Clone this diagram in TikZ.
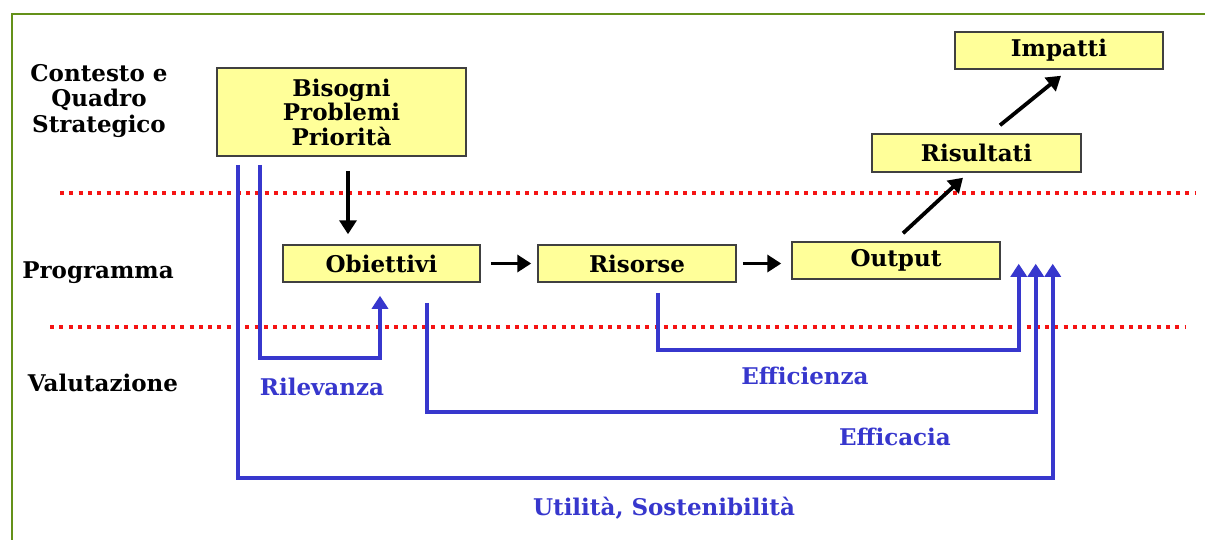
\documentclass[tikz,border=0pt]{standalone}
\usepackage{fontspec}
\setmainfont{DejaVu Serif}
\usetikzlibrary{arrows.meta,calc}
\definecolor{boxfill}{RGB}{255,255,153}
\definecolor{evalblue}{RGB}{55,55,205}
\definecolor{frameGreen}{RGB}{100,145,25}
\definecolor{dotred}{RGB}{245,20,20}
\tikzset{
  stagebox/.style={draw=black!75, fill=boxfill, line width=1.5pt, inner sep=0pt,
    align=center, font=\bfseries\fontsize{23}{24.5}\selectfont},
  sidelabel/.style={align=center, inner sep=0pt, font=\bfseries\fontsize{23}{25.5}\selectfont},
  evallabel/.style={inner sep=0pt, text=evalblue, font=\bfseries\fontsize{23}{25}\selectfont},
  karrow/.style={draw=black, line width=3.8pt, -{Triangle[length=14pt,width=17pt]}},
  barrow/.style={draw=evalblue, line width=4pt, -{Triangle[length=13pt,width=16pt]}},
  reddots/.style={draw=dotred, line width=4pt, dash pattern=on 4pt off 5.3pt},
  frameline/.style={draw=frameGreen, line width=2pt}
}
\begin{document}
\begin{tikzpicture}[x=1pt,y=-1pt]
\useasboundingbox (0,0) rectangle (1205,539);
\clip (0,0) rectangle (1205,539);
\draw[frameline] (12,14) rectangle (1240,580);

% dotted separators
\draw[reddots] (60,193) -- (1195,193);
\draw[reddots] (50,327) -- (1185,327);

% side labels
\node[sidelabel] (ctx) at (99,101) {Contesto e\\Quadro\\Strategico};
\node[sidelabel] (prog) at (98,273) {Programma};
\node[sidelabel] (val) at (103,383) {Valutazione};

% boxes
\node[stagebox, minimum width=249pt, minimum height=88pt] (bis) at (341.5,112) {Bisogni\\Problemi\\Priorità};
\node[stagebox, minimum width=197pt, minimum height=37pt] (obi) at (381.5,263.5) {Obiettivi};
\node[stagebox, minimum width=198pt, minimum height=37pt] (ris) at (637,263.5) {Risorse};
\node[stagebox, minimum width=208pt, minimum height=37pt] (out) at (896,260.5) {Output};
\node[stagebox, minimum width=209pt, minimum height=38pt] (rsl) at (976.5,153) {Risultati};
\node[stagebox, minimum width=208pt, minimum height=37pt] (imp) at (1059,50.5) {Impatti};

% black flow arrows
\coordinate (c1) at ([xshift=6.5pt]bis.south);
\draw[karrow, shorten <=14pt, shorten >=10pt] (c1) -- (c1 |- obi.north);
\draw[karrow, shorten <=10pt, shorten >=6pt] (obi.east) -- (ris.west);
\draw[karrow, shorten <=6pt, shorten >=10pt] (ris.east) -- (ris.east -| out.west);
\draw[karrow] ([xshift=7pt,yshift=8pt]out.north) -- ([xshift=-13.5pt,yshift=-5pt]rsl.south);
\draw[karrow] ([xshift=23.5pt,yshift=8pt]rsl.north) -- ([xshift=2pt,yshift=-6pt]imp.south);

% evaluation arrows
\coordinate (t1) at ([xshift=18pt,yshift=16pt]out.south east);
\coordinate (t2) at ([xshift=35pt,yshift=16pt]out.south east);
\coordinate (t3) at ([xshift=52pt,yshift=16pt]out.south east);
\draw[barrow] ([xshift=-81.5pt,yshift=-8pt]bis.south) |- ([xshift=-1.5pt,yshift=-75pt]obi.south) -- ([xshift=-1.5pt,yshift=-13pt]obi.south);
\draw[barrow] ([xshift=-103.5pt,yshift=-8pt]bis.south) |- ([yshift=-214pt]t3) -- (t3);
\draw[barrow] ([xshift=45.5pt,yshift=-20pt]obi.south) |- ([yshift=-148pt]t2) -- (t2);
\draw[barrow] ([xshift=21pt,yshift=-10pt]ris.south) |- ([yshift=-86pt]t1) -- (t1);

% evaluation labels
\node[evallabel] (ril) at (322,387) {Rilevanza};
\node[evallabel] (eff) at (805,376) {Efficienza};
\node[evallabel] (efc) at (895,437) {Efficacia};
\node[evallabel] (uti) at (664,508) {Utilità, Sostenibilità};
\end{tikzpicture}
\end{document}
